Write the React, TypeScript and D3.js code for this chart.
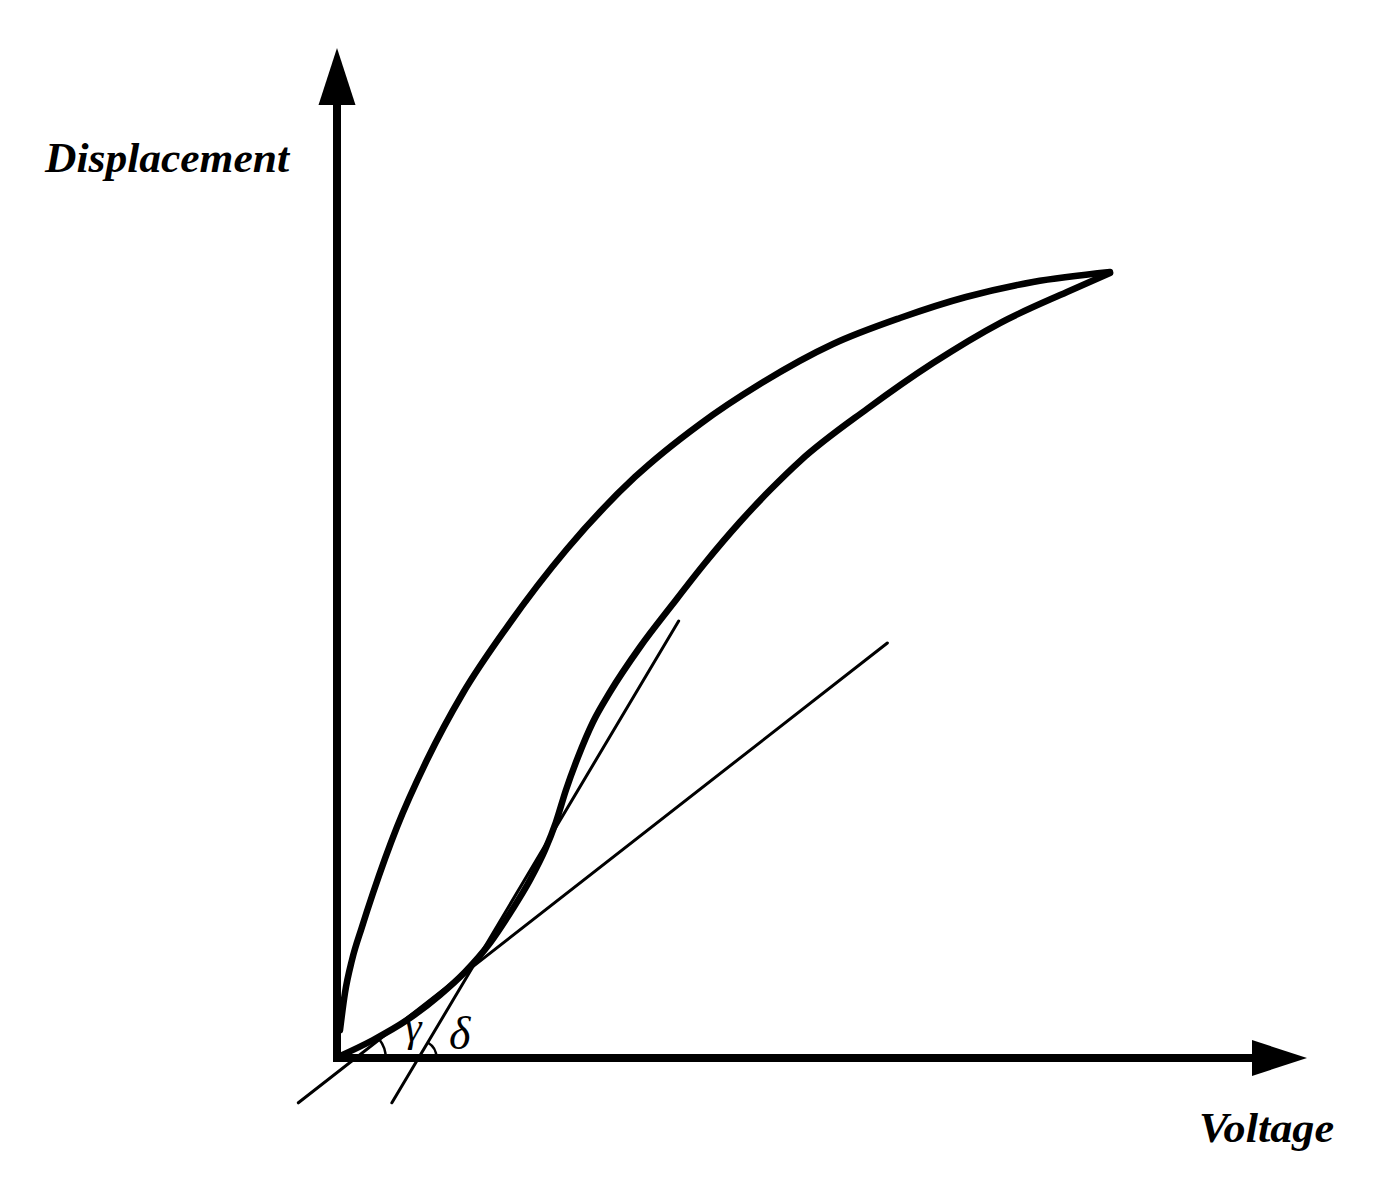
import React, { useRef, useEffect } from "react";
import * as d3 from "d3";

// hysteresis loop (voltage %, displacement %)
const upperVoltage = [0.39, 1.03, 1.94, 3.23, 4.66, 7.76, 11.64, 16.3, 21.99, 29.75, 38.55, 46.96, 54.72, 64.17, 72.83, 81.37, 90.04, 100];
const upperDisp = [3.56, 8.27, 12.47, 16.67, 20.99, 29.39, 37.91, 46.44, 54.83, 64.76, 73.92, 80.66, 85.75, 90.84, 94.15, 96.82, 98.73, 100];

const lowerVoltage = [0.13, 4.66, 9.06, 13.32, 16.56, 19.79, 22.64, 24.97, 26.91, 28.33, 29.62, 31.18, 33.12, 35.32, 39.2, 43.34, 47.61, 52.13, 56.02, 59.9, 68.56, 77.1, 85.77, 94.44, 100];
const lowerDisp = [0.13, 2.29, 4.83, 8.02, 10.94, 14.63, 18.83, 22.65, 26.46, 30.03, 34.1, 38.3, 42.75, 46.56, 52.29, 57.63, 62.98, 68.19, 72.26, 75.95, 82.57, 88.42, 93.51, 97.46, 99.87];

// tangent lines: [voltage, displacement] end points
const tangentGamma = [[-5.0, -5.7], [71.2, 52.8]];
const tangentDelta = [[7.1, -5.7], [44.2, 55.6]];

const axisLabels = ["Voltage", "Displacement"];
const angleLabels = ["γ", "δ"];

const W = 1398;
const H = 1195;
const FONT = "Liberation Serif, Times New Roman, serif";

function App() {
  const svgRef = useRef<SVGSVGElement>(null);

  useEffect(() => {
    const svg = d3.select(svgRef.current);
    svg.selectAll("*").remove();

    const x = d3.scaleLinear().domain([0, 100]).range([337, 1110]);
    const y = d3.scaleLinear().domain([0, 100]).range([1058, 272]);

    const x0 = x(0);
    const y0 = y(0);

    // Axes with arrow heads
    svg.append("line")
      .attr("x1", x0).attr("x2", x0)
      .attr("y1", y0 + 4).attr("y2", 100)
      .attr("stroke", "#000").attr("stroke-width", 8);
    svg.append("path")
      .attr("d", `M${x0},48 L${x0 - 18.5},105 L${x0 + 18.5},105 Z`)
      .attr("fill", "#000");

    svg.append("line")
      .attr("x1", x0 - 4).attr("x2", 1256)
      .attr("y1", y0).attr("y2", y0)
      .attr("stroke", "#000").attr("stroke-width", 8);
    svg.append("path")
      .attr("d", `M1307,${y0} L1252,${y0 - 18} L1252,${y0 + 18} Z`)
      .attr("fill", "#000");

    // Loop branches
    const line = d3.line<[number, number]>()
      .x((d) => x(d[0]))
      .y((d) => y(d[1]))
      .curve(d3.curveMonotoneX);

    const upper = upperVoltage.map((v, i) => [v, upperDisp[i]] as [number, number]);
    const lower = lowerVoltage.map((v, i) => [v, lowerDisp[i]] as [number, number]);

    [upper, lower].forEach((pts) => {
      svg.append("path")
        .attr("d", line(pts))
        .attr("fill", "none")
        .attr("stroke", "#000")
        .attr("stroke-width", 6.5)
        .attr("stroke-linecap", "round")
        .attr("stroke-linejoin", "round");
    });

    // Tangent lines
    [tangentGamma, tangentDelta].forEach((t) => {
      svg.append("line")
        .attr("x1", x(t[0][0])).attr("y1", y(t[0][1]))
        .attr("x2", x(t[1][0])).attr("y2", y(t[1][1]))
        .attr("stroke", "#000")
        .attr("stroke-width", 3)
        .attr("stroke-linecap", "round");
    });

    // Angle arcs where the tangents cross the voltage axis
    const arcs = [
      { t: tangentGamma, r: 30 },
      { t: tangentDelta, r: 18 },
    ];
    arcs.forEach(({ t, r }) => {
      const [p, q] = t;
      const px = [x(p[0]), y(p[1])];
      const qx = [x(q[0]), y(q[1])];
      const k = (y0 - px[1]) / (qx[1] - px[1]);
      const cx = px[0] + k * (qx[0] - px[0]);
      const ang = Math.atan2(px[1] - qx[1], qx[0] - px[0]);
      const arc = d3.arc()
        .innerRadius(r)
        .outerRadius(r)
        .startAngle(Math.PI / 2 - ang)
        .endAngle(Math.PI / 2);
      svg.append("path")
        .attr("transform", `translate(${cx},${y0})`)
        .attr("d", arc({} as any))
        .attr("fill", "none")
        .attr("stroke", "#000")
        .attr("stroke-width", 2.5);
    });

    // Angle labels
    svg.append("text")
      .attr("x", 405).attr("y", 1041)
      .attr("font-family", FONT)
      .attr("font-style", "italic")
      .attr("font-size", 42)
      .text(angleLabels[0]);
    svg.append("text")
      .attr("x", 449).attr("y", 1049)
      .attr("font-family", FONT)
      .attr("font-style", "italic")
      .attr("font-size", 46)
      .text(angleLabels[1]);

    // Axis titles
    svg.append("text")
      .attr("x", 1199).attr("y", 1142)
      .attr("font-family", FONT)
      .attr("font-style", "italic")
      .attr("font-weight", "bold")
      .attr("font-size", 42)
      .attr("textLength", 135)
      .attr("lengthAdjust", "spacingAndGlyphs")
      .text(axisLabels[0]);
    svg.append("text")
      .attr("x", 45).attr("y", 172)
      .attr("font-family", FONT)
      .attr("font-style", "italic")
      .attr("font-weight", "bold")
      .attr("font-size", 42)
      .attr("textLength", 244)
      .attr("lengthAdjust", "spacingAndGlyphs")
      .text(axisLabels[1]);
  }, []);

  return (
    <svg
      ref={svgRef}
      width={W}
      height={H}
      style={{ position: "absolute", left: 0, top: 0, background: "#fff" }}
    />
  );
}

export default App;
